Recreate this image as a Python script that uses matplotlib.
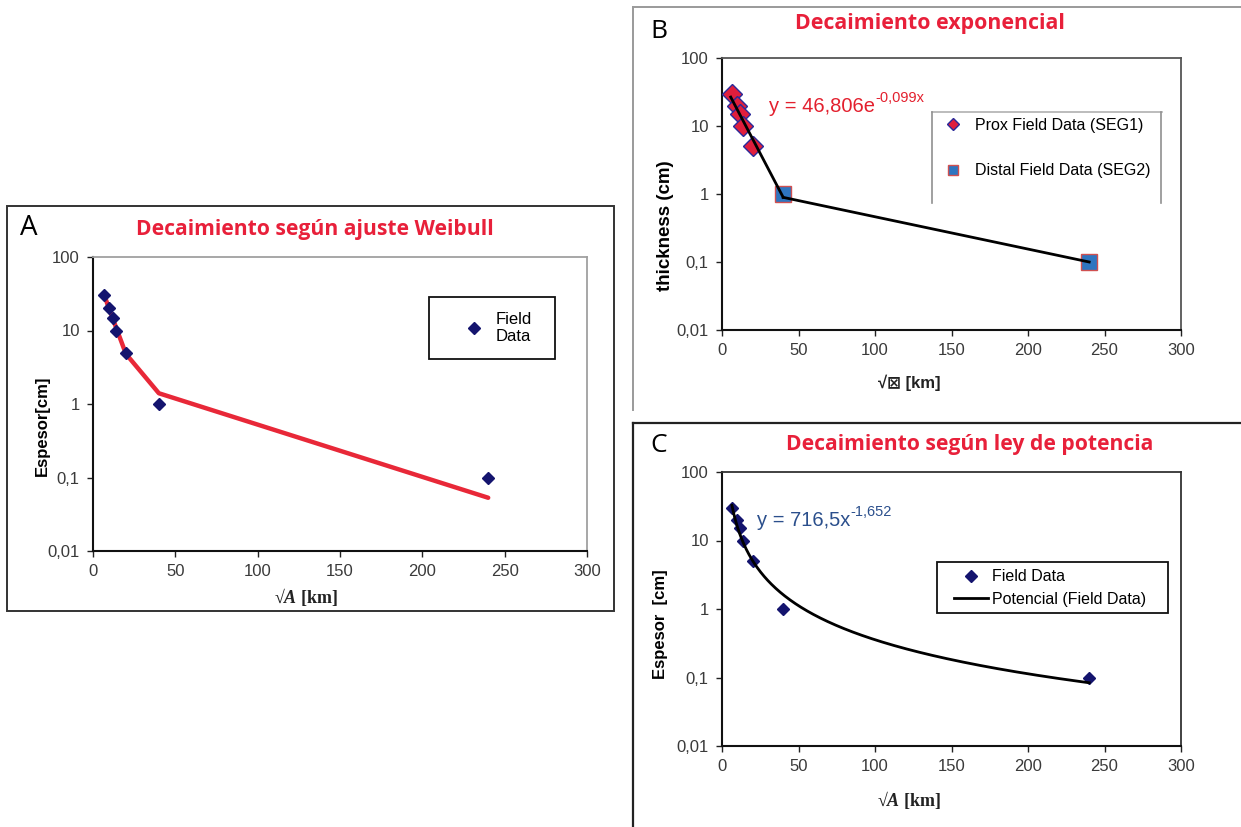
import numpy as np
import matplotlib
matplotlib.use("Agg")
import matplotlib.pyplot as plt
from matplotlib.lines import Line2D
from matplotlib.patches import Rectangle

# ---- data ------------------------------------------------------------
x_km = [6.5, 9.5, 12, 14, 20, 40, 240]          # sqrt(area) [km]
thickness_cm = [30, 20, 15, 10, 5, 1, 0.1]        # deposit thickness [cm]

# Weibull fit evaluated at the field-data distances
weibull_cm = [32, 20.5, 14.5, 11, 4.8, 1.4, 0.053]

# exponential fit of the proximal segment: y = a * exp(b x)
exp_a, exp_b = 46.806, -0.099
n_proximal = 5

# power-law fit: y = a * x^b
pow_a, pow_b = 716.5, -1.652

y_ticks = [0.01, 0.1, 1, 10, 100]
y_tick_labels = ["0,01", "0,1", "1", "10", "100"]
x_ticks = [0, 50, 100, 150, 200, 250, 300]

# ---- figure ----------------------------------------------------------
W, H = 1241, 827
fig = plt.figure(figsize=(W / 100, H / 100), dpi=100)
fig.patch.set_facecolor("white")

plt.rcParams["mathtext.fontset"] = "custom"
plt.rcParams["mathtext.rm"] = "Liberation Sans"
plt.rcParams["mathtext.it"] = "Liberation Sans:italic"
plt.rcParams["mathtext.bf"] = "Liberation Sans:bold"
plt.rcParams["mathtext.bfit"] = "Liberation Serif:italic:bold"

SANS = ["Liberation Sans", "DejaVu Sans"]
SERIF = ["Liberation Serif", "DejaVu Serif"]
TITLE_FONT = ["Open Sans", "DejaVu Sans"]
TITLE_RED = "#e8203a"
NAVY = "#14146e"


def fx(px):
    return px / W


def fy(py):
    return 1 - py / H


def make_axes(left, top, right, bottom, spine_top="#333333"):
    ax = fig.add_axes([fx(left), fy(bottom), fx(right) - fx(left), fy(top) - fy(bottom)])
    ax.set_yscale("log")
    ax.set_ylim(0.01, 100)
    ax.set_xlim(0, 300)
    ax.set_yticks(y_ticks, y_tick_labels)
    ax.set_xticks(x_ticks, [str(t) for t in x_ticks])
    ax.minorticks_off()
    ax.tick_params(axis="both", direction="out", length=4.5, width=1.0,
                   pad=5, labelsize=12, labelcolor="#3a3a3a", color="#222222")
    for lab in ax.get_xticklabels() + ax.get_yticklabels():
        lab.set_fontfamily(SANS)
    for side in ("left", "bottom"):
        ax.spines[side].set_color("#111111")
        ax.spines[side].set_linewidth(1.5)
    for side in ("top", "right"):
        ax.spines[side].set_color(spine_top)
        ax.spines[side].set_linewidth(1.3)
    ax.set_facecolor("white")
    return ax


def fig_line(xs, ys, color, lw):
    fig.add_artist(Line2D([fx(v) for v in xs], [fy(v) for v in ys],
                          color=color, lw=lw, transform=fig.transFigure))


def fig_rect(x0, y0, x1, y1, color, lw):
    fig.add_artist(Rectangle((fx(x0), fy(y1)), fx(x1) - fx(x0), fy(y0) - fy(y1),
                             fill=False, edgecolor=color, lw=lw,
                             transform=fig.transFigure))


def equation(ax, px, py, base, sup, color):
    """Trend-line equation with a raised exponent following the base text."""
    t = fig.text(fx(px), fy(py), base, fontsize=14.5, color=color,
                 family=SANS, ha="left", va="center")
    ax.annotate(sup, xy=(1.0, 0.92), xycoords=t, ha="left", va="center",
                fontsize=10.5, color=color, family=SANS, annotation_clip=False)


# ---- panel frames ------------------------------------------------------
fig_rect(7, 206, 614, 611, "#333333", 1.4)
fig_line([633, 633], [7, 410], "#9a9a9a", 1.4)
fig_line([633, 1241], [7, 7], "#9a9a9a", 1.4)
fig_line([633, 633], [423, 827], "#222222", 1.6)
fig_line([633, 1241], [423, 423], "#222222", 1.6)

# ---- panel A : Weibull -------------------------------------------------
axA = make_axes(93, 257, 587, 551, spine_top="#a0a0a0")
axA.plot(x_km, weibull_cm, color="#e82838", lw=3.2, solid_capstyle="round", zorder=2)
axA.plot(x_km, thickness_cm, linestyle="none", marker="D", ms=6.5,
         color=NAVY, mec=NAVY, zorder=3, label="Field\nData")
fig.text(fx(29), fy(228), "A", fontsize=20, family=TITLE_FONT, ha="center", va="center")
fig.text(fx(315), fy(229), "Decaimiento según ajuste Weibull", fontsize=15.2,
         fontweight="bold", color=TITLE_RED, family=TITLE_FONT, ha="center", va="center")
fig.text(fx(306), fy(597), "√$\\mathbfit{A}$ [km]", fontsize=13, fontweight="bold",
         family=SERIF, color="#222222", ha="center", va="center")
fig.text(fx(42), fy(426), "Espesor[cm]", fontsize=12, fontweight="bold", rotation=90,
         family=SANS, ha="center", va="center")
fig_rect(429, 297, 555, 359, "#111111", 1.3)
axA.legend(loc="center left", bbox_to_anchor=(fx(466), fy(328)), bbox_transform=fig.transFigure,
           frameon=False, borderpad=0, borderaxespad=0, handlelength=1, handletextpad=0.75,
           prop={"family": SANS, "size": 12})

# ---- panel B : exponential ---------------------------------------------
axB = make_axes(722, 58, 1181, 330, spine_top="#555555")
x_seg1 = np.linspace(min(x_km[:n_proximal]) - 0.8, x_km[n_proximal], 100)
y_seg1 = exp_a * np.exp(exp_b * x_seg1)
axB.plot(x_seg1, y_seg1, color="black", lw=2, zorder=4)
axB.plot([x_seg1[-1], x_km[-1]], [y_seg1[-1], thickness_cm[-1]], color="black", lw=2, zorder=4)
axB.plot(x_km[:n_proximal], thickness_cm[:n_proximal], linestyle="none", marker="D", ms=10,
         color="#e01e3c", mec="#2a2a9a", mew=1.0, zorder=3, label="Prox Field Data (SEG1)")
axB.plot(x_km[n_proximal:], thickness_cm[n_proximal:], linestyle="none", marker="s", ms=11.5,
         color="#2e75c0", mec="#d05050", mew=1.0, zorder=3, label="Distal Field Data (SEG2)")
fig.text(fx(659), fy(31), "B", fontsize=19, family=TITLE_FONT, ha="center", va="center")
fig.text(fx(930), fy(24), "Decaimiento exponencial", fontsize=15.4, fontweight="bold",
         color=TITLE_RED, family=TITLE_FONT, ha="center", va="center")
equation(axB, 769, 106, "y = 46,806e", "-0,099x", "#e3202e")
fig.text(fx(909), fy(383), "√⊠ [km]", fontsize=12, fontweight="bold", family=SANS,
         color="#222222", ha="center", va="center")
fig.text(fx(666), fy(226), "thickness (cm)", fontsize=13.5, fontweight="bold", rotation=90,
         family=SANS, ha="center", va="center")
fig_line([932, 1162], [112, 112], "#b0b0b0", 1.2)
fig_line([932, 932], [112, 203], "#909090", 1.2)
fig_line([1161, 1161], [112, 203], "#909090", 1.2)
axB.legend(loc="center left", bbox_to_anchor=(fx(945), fy(148)), bbox_transform=fig.transFigure,
           frameon=False, borderpad=0, borderaxespad=0, handlelength=1, handletextpad=0.85,
           labelspacing=1.9, markerscale=0.65, prop={"family": SANS, "size": 11.5})

# ---- panel C : power law -----------------------------------------------
axC = make_axes(722, 472, 1181, 746, spine_top="#333333")
x_pow = np.linspace(x_km[0], x_km[-1], 400)
axC.plot(x_km, thickness_cm, linestyle="none", marker="D", ms=6.5,
         color=NAVY, mec=NAVY, zorder=3, label="Field Data")
axC.plot(x_pow, pow_a * x_pow ** pow_b, color="black", lw=2, zorder=4,
         label="Potencial (Field Data)")
fig.text(fx(659), fy(446), "C", fontsize=19, family=TITLE_FONT, ha="center", va="center")
fig.text(fx(970), fy(445), "Decaimiento según ley de potencia", fontsize=15.2, fontweight="bold",
         color=TITLE_RED, family=TITLE_FONT, ha="center", va="center")
equation(axC, 757, 520, "y = 716,5x", "-1,652", "#2b4f8c")
fig.text(fx(909), fy(800), "√$\\mathbfit{A}$ [km]", fontsize=13, fontweight="bold",
         family=SERIF, color="#222222", ha="center", va="center")
fig.text(fx(660), fy(624), "Espesor  [cm]", fontsize=12, fontweight="bold", rotation=90,
         family=SANS, ha="center", va="center")
fig_rect(937, 562, 1168, 613, "#111111", 1.3)
axC.legend(loc="center left", bbox_to_anchor=(fx(954), fy(588)), bbox_transform=fig.transFigure,
           frameon=False, borderpad=0, borderaxespad=0, handlelength=2.1, handletextpad=0.3,
           labelspacing=0.45, prop={"family": SANS, "size": 11.5})

fig.savefig("out.png", dpi=100, facecolor="white")
